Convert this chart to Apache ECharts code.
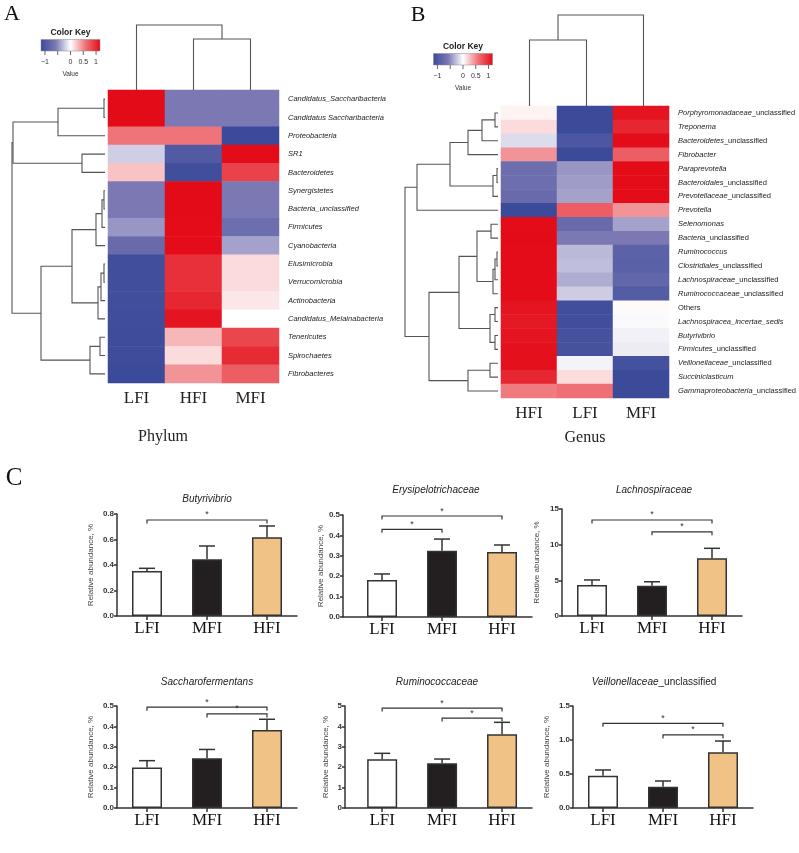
<!DOCTYPE html>
<html><head><meta charset="utf-8">
<script src="https://cdn.jsdelivr.net/npm/echarts@6/dist/echarts.min.js"></script>
<style>html,body{margin:0;padding:0;background:#fff}#c{width:799px;height:853px}</style>
</head><body><div id="c"></div>
<script>
// ================= DATA =================
// Panel A : phylum heatmap (row z-scores)
const phylumCols = ['LFI', 'HFI', 'MFI'];
const phylumRows = ['Candidatus_Saccharibacteria', 'Candidatus Saccharibacteria', 'Proteobacteria', 'SR1',
  'Bacteroidetes', 'Synergistetes', 'Bacteria_unclassified', 'Firmicutes', 'Cyanobacteria', 'Elusimicrobia',
  'Verrucomicrobia', 'Actinobacteria', 'Candidatus_Melainabacteria', 'Tenericutes', 'Spirochaetes', 'Fibrobacteres'];
const phylumLFI = [1.155, 1.155, 0.577, -0.21, 0.25, -0.577, -0.577, -0.45, -0.75, -1.1, -1.1, -1.1, -1.12, -1.13, -1.13, -1.15];
const phylumHFI = [-0.577, -0.577, 0.577, -0.95, -1.1, 1.155, 1.155, 1.15, 1.15, 0.95, 0.95, 1.0, 1.1, 0.3, 0.15, 0.45];
const phylumMFI = [-0.577, -0.577, -1.155, 1.15, 0.85, -0.577, -0.577, -0.7, -0.4, 0.15, 0.15, 0.1, 0.0, 0.83, 0.98, 0.7];
// dendrograms (hclust-style merges: negative = leaf, positive = earlier merge; third = height)
const phylumRowMerges = [[-1, -2, 1], [1, -3, 47], [-4, -5, 23], [2, 3, 92], [-6, -7, 1], [5, -8, 3], [6, -9, 9],
  [-10, -11, 1], [8, -12, 4], [9, -13, 7], [7, 10, 33], [-14, -15, 5], [12, -16, 15], [11, 13, 64], [4, 14, 93]];
const phylumColMerges = [[-2, -3, 51], [-1, 1, 65]];

// Panel B : genus heatmap
const genusCols = ['HFI', 'LFI', 'MFI'];
const genusRows = ['Porphyromonadaceae_unclassified', 'Treponema', 'Bacteroidetes_unclassified', 'Fibrobacter',
  'Paraprevotella', 'Bacteroidales_unclassified', 'Prevotellaceae_unclassified', 'Prevotella', 'Selenomonas',
  'Bacteria_unclassified', 'Ruminococcus', 'Clostridiales_unclassified', 'Lachnospiraceae_unclassified',
  'Ruminococcaceae_unclassified', 'Others', 'Lachnospiracea_incertae_sedis', 'Butyrivibrio', 'Firmicutes_unclassified',
  'Veillonellaceae_unclassified', 'Succiniclasticum', 'Gammaproteobacteria_unclassified'];
const genusHFI = [0.05, 0.15, -0.15, 0.45, -0.7, -0.7, -0.75, -1.15, 1.15, 1.155, 1.15, 1.15, 1.15, 1.15, 1.1, 1.08, 1.1, 1.12, 1.12, 1.0, 0.55];
const genusLFI = [-1.15, -1.15, -1.0, -1.15, -0.45, -0.42, -0.4, 0.7, -0.75, -0.577, -0.3, -0.28, -0.35, -0.22, -1.1, -1.1, -1.05, -1.05, -0.05, 0.15, 0.6];
const genusMFI = [1.1, 1.0, 1.15, 0.7, 1.15, 1.15, 1.15, 0.45, -0.4, -0.577, -0.85, -0.87, -0.8, -0.93, 0.02, -0.02, -0.06, -0.08, -1.07, -1.15, -1.15];
const genusRowMerges = [[-1, -2, 3], [1, -3, 16], [2, -4, 30], [-5, -6, 1], [4, -7, 5], [3, 5, 48], [6, -8, 81],
  [-9, -10, 7], [-11, -12, 1], [9, -13, 3], [10, -14, 5], [8, 11, 21], [-15, -16, 3], [-17, -18, 3], [13, 14, 8],
  [12, 15, 39], [-19, -20, 8], [17, -21, 30], [16, 18, 69], [7, 19, 93]];
const genusColMerges = [[-1, -2, 66], [1, -3, 91]];

// colour key
const keyMin = -1.155, keyMax = 1.155;
const keyTicks = [-1, -0.5, 0, 0.5, 1];
const keyTickLabels = ['\u22121', '', '0', '0.5', '1'];
const heatColors = ['#3B4A9A', '#7B78B4', '#FFFFFF', '#EE7479', '#E30B17'];

// Panel C : bar charts (mean + SEM)
const groups = ['LFI', 'MFI', 'HFI'];
const barColors = ['#FFFFFF', '#231F20', '#F0C285'];
const butyrivibrioMean = [0.353, 0.445, 0.617];
const butyrivibrioSEM = [0.021, 0.104, 0.089];
const butyrivibrioSig = [[0, 2, 0.753]];
const erysipeloMean = [0.181, 0.325, 0.319];
const erysipeloSEM = [0.030, 0.057, 0.034];
const erysipeloSig = [[0, 1, 0.43], [0, 2, 0.495]];
const lachnoMean = [4.35, 4.25, 8.09];
const lachnoSEM = [0.70, 0.55, 1.40];
const lachnoSig = [[0, 2, 13.46], [1, 2, 11.8]];
const saccharoMean = [0.198, 0.244, 0.382];
const saccharoSEM = [0.034, 0.043, 0.053];
const saccharoSig = [[0, 2, 0.494], [1, 2, 0.461]];
const rumMean = [2.39, 2.19, 3.61];
const rumSEM = [0.29, 0.21, 0.59];
const rumSig = [[0, 2, 4.9], [1, 2, 4.41]];
const veilMean = [0.475, 0.313, 0.819];
const veilSEM = [0.084, 0.084, 0.166];
const veilSig = [[0, 2, 1.245], [1, 2, 1.074]];
const barTitles = ['{i|Butyrivibrio}', '{i|Erysipelotrichaceae}', '{i|Lachnospiraceae}',
  '{i|Saccharofermentans}', '{i|Ruminococcaceae}', '{i|Veillonellaceae}{n|_unclassified}'];
const barYMax = [0.8, 0.5, 15, 0.5, 5, 1.5];
const barYInterval = [0.2, 0.1, 5, 0.1, 1, 0.5];
const barYDecimals = [1, 1, 0, 1, 0, 1];

// ================= LAYOUT / BUILD =================
const SANS = 'Liberation Sans', SERIF = 'Liberation Serif';
const grid = [], xAxis = [], yAxis = [], series = [], visualMap = [], graphic = [];

function dendroSegments(merges) {
  const pos = [], hgt = [], segs = [];
  const get = k => k < 0 ? [(-k - 1) + 0.5, 0] : [pos[k - 1], hgt[k - 1]];
  merges.forEach(([a, b, h]) => {
    const [pa, ha] = get(a), [pb, hb] = get(b);
    pos.push((pa + pb) / 2); hgt.push(h);
    segs.push([h, pa, ha, pb, hb]);
  });
  return segs;
}
function addDendro(box, merges, nLeaves, maxH, horizontal) {
  const gi = grid.length;
  grid.push(Object.assign({}, box));
  const hAx = {gridIndex: gi, type: 'value', min: 0, max: maxH, show: false};
  const pAx = {gridIndex: gi, type: 'value', min: 0, max: nLeaves, show: false};
  if (horizontal) { hAx.inverse = true; pAx.inverse = true; xAxis.push(hAx); yAxis.push(pAx); }
  else { xAxis.push(pAx); yAxis.push(hAx); }
  series.push({
    type: 'custom', xAxisIndex: xAxis.length - 1, yAxisIndex: yAxis.length - 1, silent: true, clip: false,
    data: dendroSegments(merges),
    encode: {x: 0, y: 1},
    renderItem: (params, api) => {
      const h = api.value(0), pa = api.value(1), ha = api.value(2), pb = api.value(3), hb = api.value(4);
      const pts = horizontal ? [[ha, pa], [h, pa], [h, pb], [hb, pb]] : [[pa, ha], [pa, h], [pb, h], [pb, hb]];
      return {type: 'polyline', shape: {points: pts.map(p => api.coord(p))},
        style: {stroke: '#555', lineWidth: 1.1, fill: null}};
    }
  });
}
function addHeatmap(box, cols, rows, colVals, labelFmt, rich) {
  const gi = grid.length;
  grid.push(Object.assign({}, box));
  xAxis.push({gridIndex: gi, type: 'category', data: cols, position: 'bottom',
    axisLine: {show: false}, axisTick: {show: false}, splitLine: {show: false},
    axisLabel: {fontFamily: SERIF, fontSize: 17, color: '#222', margin: 7}});
  yAxis.push({gridIndex: gi, type: 'category', data: rows, inverse: true, position: 'right',
    axisLine: {show: false}, axisTick: {show: false}, splitLine: {show: false},
    axisLabel: {fontFamily: SANS, fontSize: 7.5, color: '#222', margin: 9, formatter: labelFmt, rich: rich}});
  const data = [];
  rows.forEach((r, ri) => cols.forEach((c, ci) => data.push([ci, ri, colVals[ci][ri]])));
  const si = series.length;
  series.push({type: 'heatmap', xAxisIndex: xAxis.length - 1, yAxisIndex: yAxis.length - 1, data: data,
    silent: true, itemStyle: {borderWidth: 0}});
  visualMap.push({type: 'continuous', show: false, seriesIndex: si, dimension: 2, min: keyMin, max: keyMax,
    inRange: {color: heatColors}});
}
function addKey(x, y, w, h) {
  const stops = heatColors.map((c, i) => ({offset: i / (heatColors.length - 1), color: c}));
  const sx = v => x + (v - keyMin) / (keyMax - keyMin) * w;
  graphic.push({type: 'text', x: x + w / 2, y: y - 7, style: {text: 'Color Key', align: 'center', verticalAlign: 'middle',
    font: 'bold 8.5px "' + SANS + '"', fill: '#222'}});
  graphic.push({type: 'rect', shape: {x: x, y: y, width: w, height: h},
    style: {fill: {type: 'linear', x: 0, y: 0, x2: 1, y2: 0, colorStops: stops}, stroke: '#888', lineWidth: 0.5}});
  keyTicks.forEach((t, i) => {
    graphic.push({type: 'line', shape: {x1: sx(t), y1: y + h, x2: sx(t), y2: y + h + 4}, style: {stroke: '#444', lineWidth: 0.8}});
    if (keyTickLabels[i]) graphic.push({type: 'text', x: sx(t), y: y + h + 11, style: {text: keyTickLabels[i],
      align: 'center', verticalAlign: 'middle', font: '7px "' + SANS + '"', fill: '#333'}});
  });
  graphic.push({type: 'text', x: x + w / 2, y: y + h + 23, style: {text: 'Value', align: 'center', verticalAlign: 'middle',
    font: '6.5px "' + SANS + '"', fill: '#333'}});
}

// ----- Panel A -----
addHeatmap({left: 108, top: 90, width: 171, height: 293}, phylumCols, phylumRows, [phylumLFI, phylumHFI, phylumMFI],
  v => '{i|' + v + '}', {i: {fontStyle: 'italic', fontSize: 7.5, fontFamily: SANS, color: '#222'}});
addDendro({left: 12, top: 90, width: 93, height: 293}, phylumRowMerges, phylumRows.length, 93, true);
addDendro({left: 108, top: 25, width: 171, height: 65}, phylumColMerges, phylumCols.length, 65, false);
addKey(41, 39.5, 59, 11.5);

// ----- Panel B -----
const genusFmt = v => {
  if (v === 'Others') return '{n|' + v + '}';
  const k = v.indexOf('_unclassified');
  return k > 0 ? '{i|' + v.slice(0, k) + '}{n|_unclassified}' : '{i|' + v + '}';
};
addHeatmap({left: 501, top: 106, width: 171, height: 292}, genusCols, genusRows, [genusHFI, genusLFI, genusMFI],
  genusFmt, {i: {fontStyle: 'italic', fontSize: 7.5, fontFamily: SANS, color: '#222'},
    n: {fontSize: 7.5, fontFamily: SANS, color: '#222'}});
addDendro({left: 405, top: 106, width: 93, height: 292}, genusRowMerges, genusRows.length, 93, true);
addDendro({left: 501, top: 15, width: 171, height: 91}, genusColMerges, genusCols.length, 91, false);
addKey(433.5, 53.5, 59, 11.5);

graphic.push({type: 'text', x: 12, y: 14, style: {text: 'A', align: 'center', verticalAlign: 'middle', font: '22px "' + SERIF + '"', fill: '#111'}});
graphic.push({type: 'text', x: 418, y: 15, style: {text: 'B', align: 'center', verticalAlign: 'middle', font: '22px "' + SERIF + '"', fill: '#111'}});
graphic.push({type: 'text', x: 14, y: 478, style: {text: 'C', align: 'center', verticalAlign: 'middle', font: '25px "' + SERIF + '"', fill: '#111'}});
graphic.push({type: 'text', x: 163, y: 437, style: {text: 'Phylum', align: 'center', verticalAlign: 'middle', font: '16px "' + SERIF + '"', fill: '#222'}});
graphic.push({type: 'text', x: 585, y: 438, style: {text: 'Genus', align: 'center', verticalAlign: 'middle', font: '16px "' + SERIF + '"', fill: '#222'}});

// ----- Panel C -----
const barMeans = [butyrivibrioMean, erysipeloMean, lachnoMean, saccharoMean, rumMean, veilMean];
const barSEMs = [butyrivibrioSEM, erysipeloSEM, lachnoSEM, saccharoSEM, rumSEM, veilSEM];
const barSigs = [butyrivibrioSig, erysipeloSig, lachnoSig, saccharoSig, rumSig, veilSig];
const barLayout = [
  {left: 117, top: 514, width: 180, height: 102, xmin: -0.5, nameGap: 22, tx: 207, ty: 499},
  {left: 343, top: 515, width: 189, height: 102, xmin: -0.65, nameGap: 18, tx: 436, ty: 490},
  {left: 562, top: 509, width: 180, height: 107, xmin: -0.5, nameGap: 21, tx: 654, ty: 490},
  {left: 117, top: 706, width: 180, height: 102, xmin: -0.5, nameGap: 22, tx: 207, ty: 682},
  {left: 345, top: 706, width: 187, height: 102, xmin: -0.62, nameGap: 15, tx: 437, ty: 682},
  {left: 573, top: 706, width: 180, height: 102, xmin: -0.5, nameGap: 22, tx: 654, ty: 682}
];
const axisLineStyle = {color: '#333', width: 1.5};
barMeans.forEach((mean, k) => {
  const L = barLayout[k];
  const gi = grid.length;
  grid.push({left: L.left, top: L.top, width: L.width, height: L.height});
  xAxis.push({gridIndex: gi, type: 'value', min: L.xmin, max: 2.5,
    axisLine: {show: true, onZero: false, lineStyle: axisLineStyle},
    axisTick: {show: true, customValues: [0, 1, 2], length: 4, lineStyle: axisLineStyle},
    axisLabel: {customValues: [0, 1, 2], formatter: v => (Number.isInteger(v) && groups[v]) ? groups[v] : '',
      fontFamily: SERIF, fontSize: 17, color: '#111', margin: 4},
    splitLine: {show: false}});
  yAxis.push({gridIndex: gi, type: 'value', min: 0, max: barYMax[k], interval: barYInterval[k],
    axisLine: {show: true, onZero: false, lineStyle: axisLineStyle},
    axisTick: {show: true, length: 3, lineStyle: axisLineStyle},
    axisLabel: {fontFamily: SANS, fontSize: 8, fontWeight: 'bold', color: '#333', margin: 3,
      formatter: v => v.toFixed(barYDecimals[k])},
    splitLine: {show: false},
    name: 'Relative abundance, %', nameLocation: 'middle', nameGap: L.nameGap,
    nameTextStyle: {fontFamily: SANS, fontSize: 8, color: '#444'}});
  const xi = xAxis.length - 1, yi = yAxis.length - 1;
  series.push({type: 'bar', xAxisIndex: xi, yAxisIndex: yi, barWidth: 30, silent: true,
    data: mean.map((m, i) => ({value: [i, m], itemStyle: {color: barColors[i]}})),
    itemStyle: {borderColor: '#333', borderWidth: 1.5}});
  series.push({type: 'custom', xAxisIndex: xi, yAxisIndex: yi, silent: true, clip: false,
    data: mean.map((m, i) => [i, m, m + barSEMs[k][i]]), encode: {x: 0, y: [1, 2]},
    renderItem: (params, api) => {
      const p1 = api.coord([api.value(0), api.value(1)]), p2 = api.coord([api.value(0), api.value(2)]);
      const st = {stroke: '#333', lineWidth: 1.5};
      return {type: 'group', children: [
        {type: 'line', shape: {x1: p1[0], y1: p1[1], x2: p2[0], y2: p2[1]}, style: st},
        {type: 'line', shape: {x1: p2[0] - 8, y1: p2[1], x2: p2[0] + 8, y2: p2[1]}, style: st}]};
    }});
  series.push({type: 'custom', xAxisIndex: xi, yAxisIndex: yi, silent: true, clip: false,
    data: barSigs[k], encode: {x: [0, 1], y: 2},
    renderItem: (params, api) => {
      const a = api.coord([api.value(0), api.value(2)]), b = api.coord([api.value(1), api.value(2)]);
      return {type: 'group', children: [
        {type: 'polyline', shape: {points: [[a[0], a[1] + 3.5], a, b, [b[0], b[1] + 3.5]]},
          style: {stroke: '#333', lineWidth: 1.2, fill: null}},
        {type: 'text', x: (a[0] + b[0]) / 2, y: a[1] - 5, style: {text: '*', align: 'center', verticalAlign: 'middle',
          font: '9px "' + SANS + '"', fill: '#333'}}]};
    }});
  graphic.push({type: 'text', x: L.tx, y: L.ty, style: {text: barTitles[k], align: 'center', verticalAlign: 'middle',
    font: '10px "' + SANS + '"', fill: '#222',
    rich: {i: {fontStyle: 'italic', fontSize: 10, fontFamily: SANS, fill: '#222'}, n: {fontSize: 10, fontFamily: SANS, fill: '#222'}}}});
});

const chart = echarts.init(document.getElementById('c'), null, {renderer: 'canvas'});
chart.setOption({animation: false, backgroundColor: '#fff', grid: grid, xAxis: xAxis, yAxis: yAxis,
  series: series, visualMap: visualMap, graphic: graphic});
</script></body></html>
